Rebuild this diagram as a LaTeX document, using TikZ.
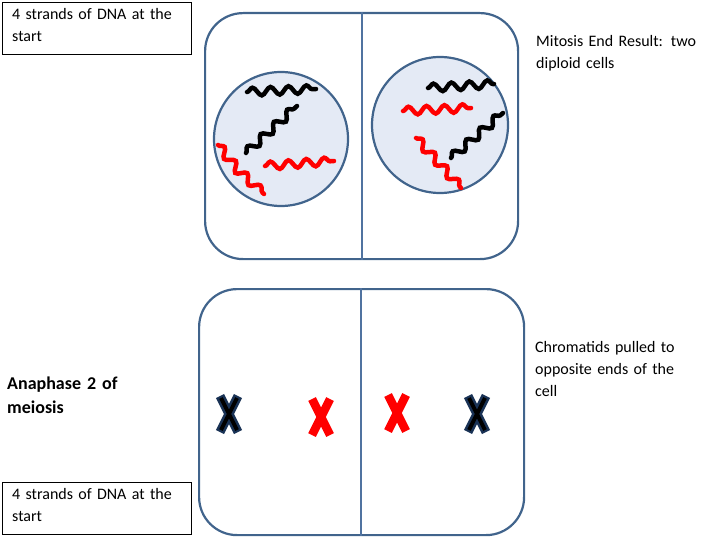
\documentclass[tikz,border=0pt]{standalone}
\usepackage{fontspec}
\setmainfont{Carlito}
\usetikzlibrary{decorations.pathmorphing}
\definecolor{cellc}{RGB}{65,100,140}
\definecolor{divc}{RGB}{80,115,160}
\definecolor{nucf}{RGB}{228,234,245}
\definecolor{navyc}{RGB}{25,50,85}
\begin{document}
\begin{tikzpicture}[x=1pt,y=-1pt,
  cellbox/.style={draw=cellc,line width=2.2pt,rounded corners=38pt},
  divline/.style={draw=divc,line width=2pt},
  nucleus/.style={draw=cellc,line width=2.2pt,fill=nucf},
  dna/.style={line width=4.5pt,line cap=round,decorate,decoration={snake,segment length=18pt,amplitude=4pt}},
  lbl/.style={font=\fontsize{16}{22}\selectfont,align=left,anchor=north west,inner sep=0pt,text width=180pt,execute at begin node={\hyphenpenalty=10000}},
  tbox/.style={draw,line width=0.6pt}]
\useasboundingbox (0,0) rectangle (720,540);
\node[cellbox,minimum width=313pt,minimum height=246pt,anchor=north west] (top) at (204,12) {};
\draw[divline] (top.north) -- (top.south);
\node[cellbox,minimum width=325pt,minimum height=246pt,anchor=north west] (bot) at (198,288) {};
\draw[divline] ([xshift=-0.5pt]bot.north) coordinate (bn) -- ([xshift=-0.5pt]bot.south);
\node[nucleus,circle,minimum size=134pt] (n1) at (281,139) {};
\node[nucleus,circle,minimum size=136pt] (n2) at (440,125) {};
% left nucleus DNA
\draw[dna,black] (247,92) -- (316,89);
\draw[dna,black] (246,153) -- (297,106);
\draw[dna,red] (218,145) -- (238,170) -- (264,194);
\draw[dna,red] (265,166) -- (334,161);
% right nucleus DNA
\draw[dna,black] (428,88) -- (494,84);
\draw[dna,red] (403,111) -- (471,108);
\draw[dna,black] (451,158) -- (503,113);
\draw[dna,red] (416,138) -- (438,162) -- (461,188);
% X chromosomes
\foreach \n/\cx/\cy in {xa/229/414, xd/477/414}{
  \coordinate (\n) at (\cx,\cy);
  \draw[line width=9pt,navyc] ([shift={(-9,-18)}]\n) -- ([shift={(9,18)}]\n) ([shift={(9,-18)}]\n) -- ([shift={(-9,18)}]\n);
  \draw[line width=4pt,black] ([shift={(-8,-16)}]\n) -- ([shift={(8,16)}]\n) ([shift={(8,-16)}]\n) -- ([shift={(-8,16)}]\n);
}
\foreach \n/\cx/\cy in {xb/321/417, xc/397/413}{
  \coordinate (\n) at (\cx,\cy);
  \draw[line width=8.5pt,red] ([shift={(-9,-18)}]\n) -- ([shift={(9,18)}]\n) ([shift={(9,-18)}]\n) -- ([shift={(-9,18)}]\n);
}
% labels
\node[tbox,minimum width=189pt,minimum height=52pt,anchor=north west] (b1) at (2,2) {};
\node[lbl] (t1) at (12,8) {4 strands of DNA at the start};
\node[tbox,minimum width=189pt,minimum height=52pt,anchor=north west] (b2) at (2,482) {};
\node[lbl] (t2) at (12,488) {4 strands of DNA at the start};
\node[lbl,font=\fontsize{18}{24}\selectfont\bfseries,text width=150pt] (ana) at (7,377) {Anaphase 2 of meiosis};
\node[lbl,text width=180pt] (mit) at (536,35) {Mitosis End Result: two diploid cells};
\node[lbl,text width=165pt] (chr) at (535,341) {Chromatids pulled to opposite ends of the cell};
\end{tikzpicture}
\end{document}
